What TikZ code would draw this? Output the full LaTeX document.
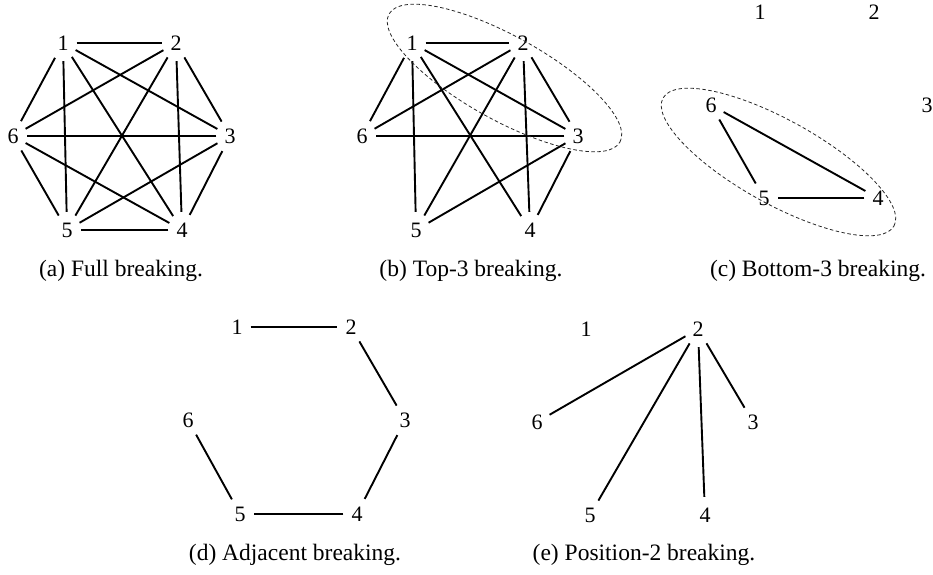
\documentclass[tikz,border=0pt]{standalone}
\usepackage{fontspec}
\setmainfont{Liberation Serif}
\usetikzlibrary{shapes.geometric}
\begin{document}
\begin{tikzpicture}[x=1pt,y=-1pt,
  vert/.style={ellipse, inner sep=0pt, minimum width=27pt, minimum height=36pt, font=\fontsize{22}{24}\selectfont},
  edge/.style={line width=1.9pt},
  grp/.style={dash pattern=on 3.5pt off 2.5pt, line width=0.8pt, black!85},
  captxt/.style={anchor=base, font=\fontsize{23.5}{26}\selectfont}]
\useasboundingbox (0,0) rectangle (933,574);
% (a) Full breaking
\foreach \n/\x/\y in {1/63/43, 2/176/43, 3/230/136, 4/182/230, 5/67/230, 6/13/136}
  \node[vert] (a\n) at (\x,\y) {\n};
\foreach \i/\j in {1/2,1/3,1/4,1/5,1/6,2/3,2/4,2/5,2/6,3/4,3/5,3/6,4/5,4/6,5/6}
  \draw[edge] (a\i) -- (a\j);
\node[captxt] (capa) at (121,276) {(a) Full breaking.};
% (b) Top-3 breaking
\foreach \n/\x/\y in {1/412/43, 2/523/43, 3/578/136, 4/530/230, 5/416/230, 6/362/136}
  \node[vert] (b\n) at (\x,\y) {\n};
\foreach \i/\j in {1/2,1/3,1/4,1/5,1/6,2/3,2/4,2/5,2/6,3/4,3/5,3/6}
  \draw[edge] (b\i) -- (b\j);
\draw[grp, rotate around={-29:(504.5,78)}] (504.5,78) ellipse [x radius=132pt, y radius=42pt];
\node[captxt] (capb) at (471,276) {(b) Top-3 breaking.};
% (c) Bottom-3 breaking
\foreach \n/\x/\y in {1/760/12, 2/874/12, 3/927/105, 4/878/198, 5/764/198, 6/711/105}
  \node[vert] (c\n) at (\x,\y) {\n};
\foreach \i/\j in {4/5,5/6,4/6}
  \draw[edge] (c\i) -- (c\j);
\draw[grp, rotate around={-29:(778.5,162)}] (778.5,162) ellipse [x radius=132pt, y radius=42pt];
\node[captxt] (capc) at (818,276) {(c) Bottom-3 breaking.};
% (d) Adjacent breaking
\foreach \n/\x/\y in {1/237/327, 2/351/327, 3/405/420, 4/357/514, 5/240/514, 6/188/420}
  \node[vert] (d\n) at (\x,\y) {\n};
\foreach \i/\j in {1/2,2/3,3/4,4/5,5/6}
  \draw[edge] (d\i) -- (d\j);
\node[captxt] (capd) at (295,560) {(d) Adjacent breaking.};
% (e) Position-2 breaking
\foreach \n/\x/\y in {1/586/329, 2/698/329, 3/753/422, 4/705/515, 5/590/515, 6/537/422}
  \node[vert] (e\n) at (\x,\y) {\n};
\foreach \i/\j in {2/3,2/4,2/5,2/6}
  \draw[edge] (e\i) -- (e\j);
\node[captxt] (cape) at (644,560) {(e) Position-2 breaking.};
\end{tikzpicture}
\end{document}
